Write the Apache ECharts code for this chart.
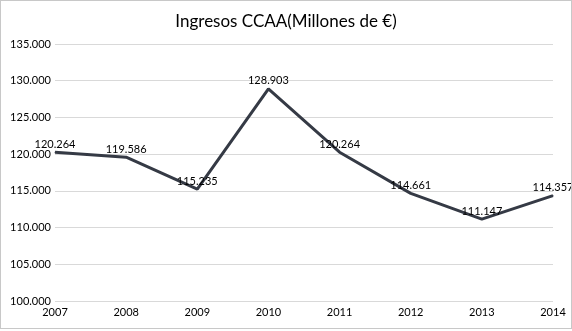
<!DOCTYPE html>
<html><head><meta charset="utf-8">
<script src="https://cdn.jsdelivr.net/npm/echarts@6/dist/echarts.min.js"></script>
<style>html,body{margin:0;padding:0;background:#fff}#c{position:absolute;left:0;top:0;width:570px;height:327px;border:1px solid #c8c8c8}</style>
</head><body><div id="c"></div>
<script>
const years = ['2007','2008','2009','2010','2011','2012','2013','2014'];
const ingresos = [120264,119586,115235,128903,120264,114661,111147,114357];
const yTicks = {min:100000, max:135000, step:5000};
const title = 'Ingresos CCAA(Millones de €)';

const fmt = v => { const s = String(Math.round(v)); return s.slice(0,-3)+'.'+s.slice(-3); };
const chart = echarts.init(document.getElementById('c'), null, {renderer:'canvas'});
chart.setOption({
  animation:false,
  textStyle:{fontFamily:'Lato'},
  title:{text:title,left:'center',top:7,textStyle:{fontFamily:'Lato',fontWeight:'normal',fontSize:17,color:'#000'}},
  grid:{left:54,right:18,top:43,bottom:27},
  xAxis:{type:'category',data:years,boundaryGap:false,
    axisLine:{show:false},axisTick:{show:false},
    axisLabel:{color:'#000',fontSize:11,margin:6,fontFamily:'Lato'}},
  yAxis:{type:'value',min:yTicks.min,max:yTicks.max,interval:yTicks.step,
    axisLine:{show:false},axisTick:{show:false},
    splitLine:{lineStyle:{color:'#d9d9d9',width:1}},
    axisLabel:{color:'#000',fontSize:11,margin:4,fontFamily:'Lato',formatter:fmt}},
  series:[{type:'line',data:ingresos,
    symbol:'circle',symbolSize:1,showSymbol:true,itemStyle:{color:'#353a45'},
    lineStyle:{color:'#353a45',width:3},
    labelLayout:{hideOverlap:false},
    label:{show:true,position:'top',distance:2,color:'#000',fontSize:11,fontFamily:'Lato',formatter:p=>fmt(p.value)}}]
});
</script></body></html>
